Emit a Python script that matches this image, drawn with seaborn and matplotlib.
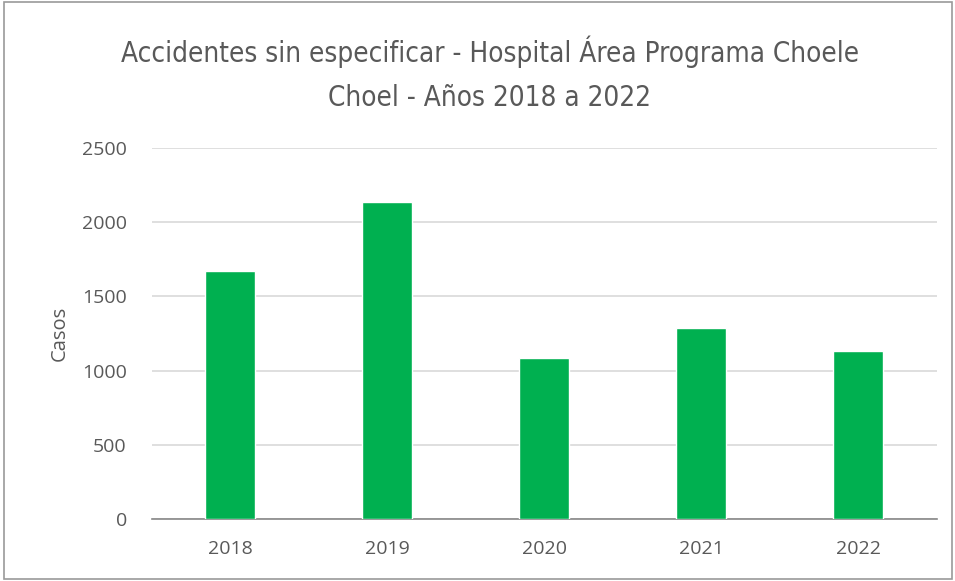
import matplotlib
matplotlib.use('Agg')
import matplotlib.pyplot as plt
import matplotlib.patches as patches
import seaborn as sns
import pandas as pd

# datos
anios = ['2018', '2019', '2020', '2021', '2022']
casos = [1671, 2135, 1086, 1284, 1135]

df = pd.DataFrame({'Año': anios, 'Casos': casos})

sns.set_style('white')
plt.rcParams['font.family'] = ['Open Sans', 'DejaVu Sans']

fig = plt.figure(figsize=(9.55, 5.81), dpi=100)
ax = fig.add_axes([0.159, 0.1067, 0.822, 0.6387])

sns.barplot(data=df, x='Año', y='Casos', color='#00b050', width=0.32,
            saturation=1, ax=ax, zorder=3)

ax.set_ylim(0, 2500)
ax.set_yticks(range(0, 2501, 500))
ax.grid(axis='y', color='#d9d9d9', linewidth=1.2, zorder=0)
ax.set_axisbelow(True)
for s in ['top', 'right', 'left']:
    ax.spines[s].set_visible(False)
ax.spines['bottom'].set_color('#888888')
ax.spines['bottom'].set_linewidth(1.2)
ax.tick_params(axis='both', length=0, labelsize=14, colors='#595959')
ax.tick_params(axis='x', pad=15)
ax.tick_params(axis='y', pad=18)
ax.set_xlabel('')
ax.set_ylabel('Casos', fontsize=14.5, color='#595959', labelpad=9)

fig.text(0.513, 0.873, 'Accidentes sin especificar - Hospital Área Programa Choele\nChoel - Años 2018 a 2022',
         ha='center', va='center', fontsize=20, color='#595959',
         family=['DejaVu Sans'], fontstretch='condensed', linespacing=1.75)

# borde del area del grafico
fig.patches.append(patches.Rectangle((0.004, 0.003), 0.993, 0.994, transform=fig.transFigure,
                                     fill=False, edgecolor='#9a9a9a', linewidth=1.2))

fig.savefig('out.png', dpi=100)
